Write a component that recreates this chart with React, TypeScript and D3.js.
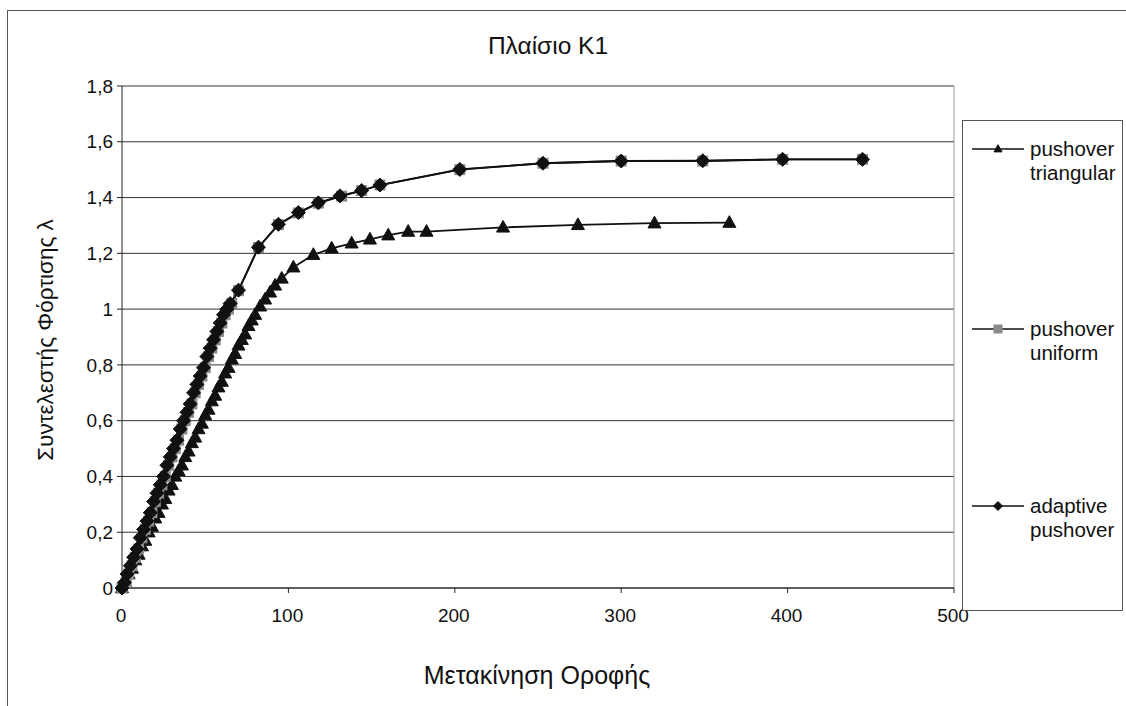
import React from "react";
import * as d3 from "d3";

// values (roof displacement, load factor λ)
const triangular: [number, number][] = [
  [0, 0], [2, 0.02], [4, 0.05], [6, 0.07], [8, 0.1], [10, 0.12], [12, 0.15], [14, 0.17],
  [16, 0.2], [18, 0.22], [20, 0.25], [22, 0.27], [24, 0.3], [26, 0.32], [28, 0.35],
  [30, 0.37], [32, 0.4], [34, 0.42], [36, 0.44], [38, 0.47], [40, 0.49], [42, 0.52],
  [44, 0.54], [46, 0.57], [48, 0.59], [50, 0.62], [52, 0.64], [54, 0.67], [56, 0.69],
  [58, 0.72], [60, 0.74], [62, 0.77], [64, 0.79], [66, 0.82], [68, 0.84], [70, 0.87],
  [72, 0.89], [74, 0.91], [76, 0.94], [78, 0.96], [80, 0.98], [83, 1.01], [86, 1.035],
  [89, 1.06], [92, 1.085], [96, 1.11], [103, 1.15], [115, 1.195], [126, 1.218],
  [138, 1.236], [149, 1.25], [160, 1.265], [172, 1.278], [183, 1.278], [229, 1.293],
  [274, 1.302], [320, 1.308], [365, 1.31],
];

const uniform: [number, number][] = [
  [0, 0], [2.5, 0.02], [4, 0.05], [6, 0.08], [8, 0.11], [10, 0.14], [12, 0.18], [14, 0.21],
  [16, 0.24], [18, 0.27], [20, 0.31], [22, 0.34], [24, 0.37], [26, 0.4], [28, 0.44],
  [30, 0.47], [32, 0.5], [34, 0.53], [36, 0.57], [38, 0.6], [40, 0.63], [42, 0.66],
  [44, 0.7], [46, 0.73], [48, 0.76], [50, 0.79], [52, 0.83], [54, 0.86], [56, 0.89],
  [58, 0.92], [60, 0.95], [62, 0.98], [64, 1.0], [66, 1.02], [70, 1.066], [82, 1.221],
  [94, 1.303], [106, 1.345], [118, 1.38], [132, 1.405], [144, 1.425], [155, 1.445],
  [203, 1.5], [253, 1.523], [300, 1.531], [349, 1.531], [397, 1.537], [445, 1.537],
];

const adaptive: [number, number][] = [
  [0, 0], [1.5, 0.02], [3, 0.05], [5, 0.08], [7, 0.11], [9, 0.14], [11, 0.18], [13, 0.21],
  [15, 0.24], [17, 0.27], [19, 0.31], [21, 0.34], [23, 0.37], [25, 0.4], [27, 0.44],
  [29, 0.47], [31, 0.5], [33, 0.53], [35, 0.57], [37, 0.6], [39, 0.63], [41, 0.66],
  [43, 0.7], [45, 0.73], [47, 0.76], [49, 0.79], [51, 0.83], [53, 0.86], [55, 0.89],
  [57, 0.92], [59, 0.95], [61, 0.98], [63, 1.0], [65, 1.02], [70, 1.068], [82, 1.222],
  [94, 1.304], [106, 1.346], [118, 1.381], [131, 1.406], [144, 1.425], [155, 1.445],
  [203, 1.501], [253, 1.523], [300, 1.531], [349, 1.532], [397, 1.537], [445, 1.537],
];

const xTicks = [0, 100, 200, 300, 400, 500];
const yTicks = [0, 0.2, 0.4, 0.6, 0.8, 1, 1.2, 1.4, 1.6, 1.8];

const title = "Πλαίσιο K1";
const xTitle = "Μετακίνηση Οροφής";
const yTitle = "Συντελεστής Φόρτισης λ";
const legendLabels = [
  ["pushover", "triangular"],
  ["pushover", "uniform"],
  ["adaptive", "pushover"],
];

const W = 1126;
const H = 706;
const FONT = "'Liberation Sans', Arial, sans-serif";

const x = d3.scaleLinear().domain([0, 500]).range([122, 954]);
const y = d3.scaleLinear().domain([0, 1.8]).range([588, 86]);
const line = d3.line<[number, number]>().x((d) => x(d[0])).y((d) => y(d[1]));
const fmt = (v: number) => d3.format("~g")(v).replace(".", ",");

function Triangle({ cx, cy, s = 13 }: { cx: number; cy: number; s?: number }) {
  const h = s * 0.9;
  return (
    <path
      d={`M${cx},${cy - h * 0.6}L${cx + s / 2},${cy + h * 0.4}L${cx - s / 2},${cy + h * 0.4}Z`}
      fill="#111"
      stroke="#111"
      strokeWidth={1}
      strokeLinejoin="round"
    />
  );
}

function Square({ cx, cy, s = 11 }: { cx: number; cy: number; s?: number }) {
  return <rect x={cx - s / 2} y={cy - s / 2} width={s} height={s} fill="#8a8a8a" />;
}

function Diamond({ cx, cy, s = 14 }: { cx: number; cy: number; s?: number }) {
  const r = s / 2;
  return (
    <path
      d={`M${cx},${cy - r}L${cx + r},${cy}L${cx},${cy + r}L${cx - r},${cy}Z`}
      fill="#111"
      stroke="#111"
      strokeWidth={1}
      strokeLinejoin="round"
    />
  );
}

export default function App() {
  const legendY = [149, 329, 506];
  return (
    <svg
      width={W}
      height={H}
      style={{ position: "absolute", left: 0, top: 0, background: "#fff" }}
      fontFamily={FONT}
    >
      <rect x={0} y={0} width={W} height={H} fill="#fff" />
      {/* chart area border */}
      <rect x={7.5} y={10.5} width={1200} height={800} fill="none" stroke="#555" strokeWidth={1} />

      <text x={548} y={54} textAnchor="middle" fontSize={24.5} fill="#111">
        {title}
      </text>

      {/* gridlines */}
      {yTicks.map((t) => (
        <line key={t} x1={x(0)} x2={x(500)} y1={y(t)} y2={y(t)} stroke="#333" strokeWidth={1} />
      ))}
      <line x1={x(500)} x2={x(500)} y1={y(1.8)} y2={y(0)} stroke="#999" strokeWidth={1} />

      {/* axes */}
      <line x1={x(0)} x2={x(0)} y1={y(1.8)} y2={y(0) + 5} stroke="#222" strokeWidth={1} />
      <line x1={x(0)} x2={x(500)} y1={y(0)} y2={y(0)} stroke="#222" strokeWidth={1} />
      {yTicks.map((t) => (
        <g key={t}>
          <line x1={x(0) - 5} x2={x(0)} y1={y(t)} y2={y(t)} stroke="#222" />
          <text x={113} y={y(t)} dy="0.35em" textAnchor="end" fontSize={19} fill="#111">
            {fmt(t)}
          </text>
        </g>
      ))}
      {xTicks.map((t) => (
        <g key={t}>
          <line x1={x(t)} x2={x(t)} y1={y(0)} y2={y(0) + 5} stroke="#222" />
          <text x={x(t) - 1} y={622} textAnchor="middle" fontSize={19} fill="#111">
            {t}
          </text>
        </g>
      ))}

      <text x={537} y={684} textAnchor="middle" fontSize={25} fill="#111">
        {xTitle}
      </text>
      <text
        transform={`translate(53,340) rotate(-90)`}
        textAnchor="middle"
        fontSize={22.5}
        fill="#111"
      >
        {yTitle}
      </text>

      {/* series */}
      <path d={line(triangular) ?? ""} fill="none" stroke="#111" strokeWidth={1.8} />
      {triangular.map((d, i) => (
        <Triangle key={i} cx={x(d[0])} cy={y(d[1])} />
      ))}
      <path d={line(uniform) ?? ""} fill="none" stroke="#111" strokeWidth={1.8} />
      {uniform.map((d, i) => (
        <Square key={i} cx={x(d[0])} cy={y(d[1])} />
      ))}
      <path d={line(adaptive) ?? ""} fill="none" stroke="#111" strokeWidth={1.8} />
      {adaptive.map((d, i) => (
        <Diamond key={i} cx={x(d[0])} cy={y(d[1])} />
      ))}

      {/* legend */}
      <rect x={962.5} y={120.5} width={160} height={490} fill="#fff" stroke="#555" />
      {legendLabels.map((lab, i) => (
        <g key={i}>
          <line x1={972} x2={1024} y1={legendY[i]} y2={legendY[i]} stroke="#111" strokeWidth={1.5} />
          {i === 0 && <Triangle cx={998} cy={legendY[i]} s={8} />}
          {i === 1 && <Square cx={998} cy={legendY[i]} s={9} />}
          {i === 2 && <Diamond cx={998} cy={legendY[i]} s={9} />}
          <text x={1030} y={legendY[i]} dy="0.35em" fontSize={20.5} fill="#111">
            {lab[0]}
          </text>
          <text x={1030} y={legendY[i] + 24} dy="0.35em" fontSize={20.5} fill="#111">
            {lab[1]}
          </text>
        </g>
      ))}
    </svg>
  );
}
